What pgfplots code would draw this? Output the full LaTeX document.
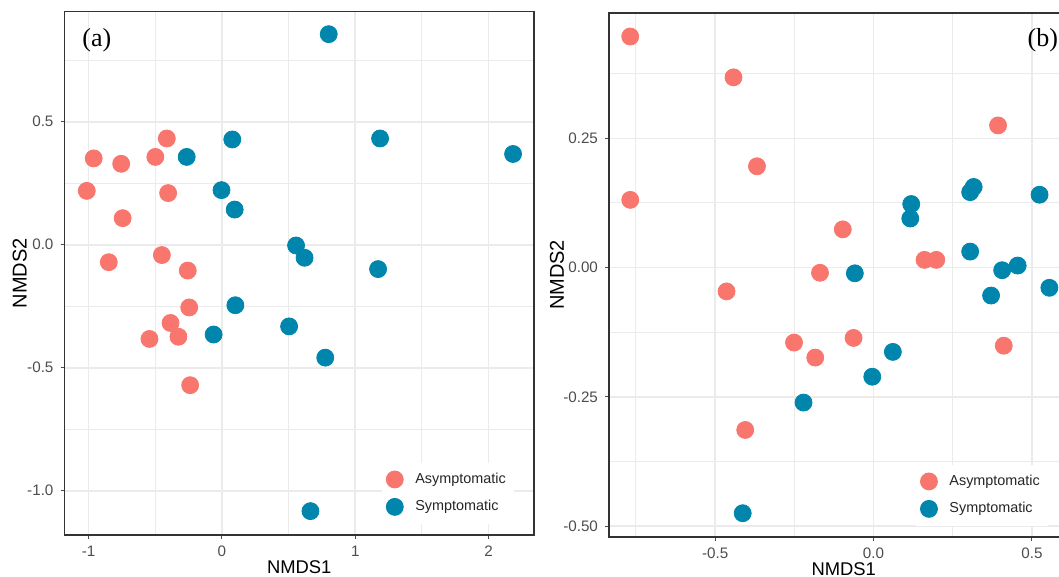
\documentclass[border=0pt]{standalone}
\usepackage{pgfplots}
\pgfplotsset{compat=1.18}
\usepackage{fontspec}
\setmainfont{Liberation Sans}
\newfontfamily\serifx{Liberation Serif}
\definecolor{asym}{HTML}{F8766D}
\definecolor{sym}{HTML}{0086AD}
\definecolor{gridc}{HTML}{EBEBEB}
\definecolor{tickc}{HTML}{4D4D4D}
\definecolor{framec}{HTML}{333333}
\pgfplotsset{
 ggstyle/.style={
  scale only axis, width=234.75pt,
  axis line style={framec, line width=0.7pt},
  grid=both,
  major grid style={gridc, line width=0.8pt},
  minor grid style={gridc, line width=0.5pt},
  tick align=outside, major tick length=2pt, minor tick length=0pt,
  tick style={tickc, line width=0.5pt},
  xtick pos=bottom, ytick pos=left,
  ticklabel style={font=\fontsize{7.6}{8}\selectfont, text=tickc},
  every axis x label/.style={at={(axis description cs:0.5,0)}, anchor=center, yshift=-16pt},
  label style={font=\fontsize{9.2}{10}\selectfont},
  legend cell align=left,
  legend style={anchor=south west, draw=none, fill=white, column sep=4pt,
    font=\fontsize{7.2}{8}\selectfont, text=black!85, row sep=3pt, inner xsep=2pt, inner ysep=3pt},
 },
 asymp/.style={only marks, mark=*, mark size=4.25pt, color=asym, mark options={draw=asym, fill=asym}},
 symp/.style={only marks, mark=*, mark size=4.25pt, color=sym, mark options={draw=sym, fill=sym}},
}
\begin{document}
\begin{tikzpicture}
\useasboundingbox (0,0) rectangle (529.5pt,288.5pt);
% ---------- panel (a)
\begin{axis}[ggstyle, at={(32.25pt,21pt)}, anchor=south west, height=261.6pt,
  xmin=-1.18, xmax=2.34, ymin=-1.18, ymax=0.947,
  xtick={-1,0,1,2}, xticklabels={-1,0,1,2},
  minor xtick={-0.5,0.5,1.5},
  ytick={-1,-0.5,0,0.5}, yticklabels={-1.0,-0.5,0.0,0.5},
  minor ytick={-0.75,-0.25,0.25,0.75},
  xlabel={NMDS1}, ylabel={NMDS2},
  every axis y label/.style={at={(axis description cs:0,0.5)}, xshift=-22.4pt, rotate=90, anchor=center},
  legend style={at={(0.676,0.021)}},
]
\addplot[asymp] table {
x y
-0.413 0.432
-0.961 0.351
-0.755 0.329
-0.499 0.357
-1.013 0.219
-0.403 0.210
-0.744 0.108
-0.848 -0.071
-0.450 -0.042
-0.256 -0.105
-0.245 -0.255
-0.385 -0.318
-0.326 -0.374
-0.543 -0.383
-0.238 -0.571
};
\addlegendentry{Asymptomatic}
\addplot[symp] table {
x y
0.801 0.856
0.078 0.428
1.186 0.432
2.183 0.369
-0.264 0.357
-0.003 0.222
0.096 0.143
0.556 -0.003
0.620 -0.053
1.171 -0.099
0.101 -0.246
-0.062 -0.365
0.504 -0.332
0.775 -0.459
0.664 -1.083
};
\addlegendentry{Symptomatic}
\node[font=\serifx\fontsize{13}{14}\selectfont] at (rel axis cs:0.069,0.946) {(a)};
\end{axis}
% ---------- panel (b)
\begin{axis}[ggstyle, at={(304.5pt,20pt)}, anchor=south west, height=262pt,
  xmin=-0.835, xmax=0.647, ymin=-0.521, ymax=0.4925,
  xtick={-0.5,0,0.5}, xticklabels={-0.5,0.0,0.5},
  minor xtick={-0.75,-0.25,0.25},
  ytick={-0.5,-0.25,0,0.25}, yticklabels={-0.50,-0.25,0.00,0.25},
  minor ytick={-0.375,-0.125,0.125,0.375},
  xlabel={NMDS1}, ylabel={NMDS2},
  every axis y label/.style={at={(axis description cs:0,0.5)}, xshift=-26pt, rotate=90, anchor=center},
  legend style={at={(0.654,0.021)}},
]
\addplot[asymp] table {
x y
-0.768 0.447
-0.442 0.368
-0.368 0.196
-0.768 0.131
0.393 0.275
-0.097 0.074
0.161 0.015
0.198 0.015
-0.169 -0.010
-0.464 -0.046
-0.063 -0.136
-0.251 -0.145
-0.184 -0.174
0.411 -0.151
-0.405 -0.314
};
\addlegendentry{Asymptomatic}
\addplot[symp] table {
x y
0.119 0.123
0.116 0.095
0.305 0.146
0.316 0.156
0.524 0.141
0.305 0.031
0.406 -0.005
0.455 0.004
0.371 -0.054
0.555 -0.039
-0.059 -0.011
0.061 -0.163
-0.004 -0.211
-0.221 -0.261
-0.413 -0.475
};
\addlegendentry{Symptomatic}
\node[font=\serifx\fontsize{13}{14}\selectfont] at (rel axis cs:0.924,0.948) {(b)};
\end{axis}
\end{tikzpicture}
\end{document}
